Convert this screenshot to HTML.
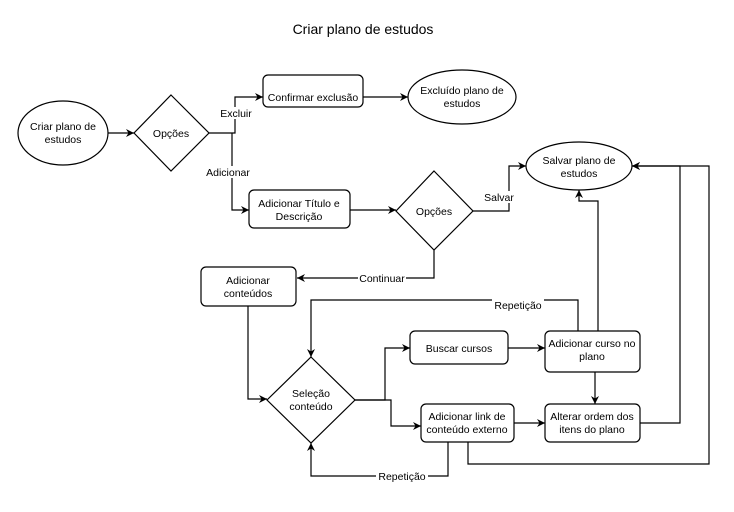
<!DOCTYPE html>
<html><head><meta charset="utf-8"><style>
html,body{margin:0;padding:0;background:#fff}
svg text{font-family:"Liberation Sans",sans-serif;font-size:10.5px;fill:#000}
</style></head><body>
<svg width="734" height="507" viewBox="0 0 734 507" xmlns="http://www.w3.org/2000/svg">
<defs><marker id="a" markerWidth="10" markerHeight="10" refX="8" refY="5" orient="auto" markerUnits="userSpaceOnUse"><path d="M0,1 L8,5 L0,9 L2.5,5 z" fill="#000"/></marker></defs>
<text x="363" y="34" text-anchor="middle" style="font-size:14px">Criar plano de estudos</text>
<g fill="#fff" stroke="#000" stroke-width="1.2">
<ellipse cx="63" cy="133" rx="45" ry="32"/>
<polygon points="171,95 209,133 171,171 134,133"/>
<rect x="263" y="75" width="100" height="32" rx="5"/>
<ellipse cx="462" cy="97" rx="54" ry="27"/>
<rect x="249" y="190" width="101" height="38" rx="5"/>
<polygon points="434,171 473,211 434,250 396,211"/>
<ellipse cx="579" cy="166" rx="53" ry="24"/>
<rect x="201" y="267" width="95" height="39" rx="5"/>
<polygon points="311,357 355,400 311,443 267,400"/>
<rect x="410" y="331" width="98" height="33" rx="5"/>
<rect x="545" y="331" width="95" height="41" rx="5"/>
<rect x="421" y="404" width="93" height="38" rx="5"/>
<rect x="545" y="404" width="95" height="38" rx="5"/>
</g>
<g fill="none" stroke="#000" stroke-width="1.2" marker-end="url(#a)">
<path d="M108,133 H134"/>
<path d="M209,133 H235 V97 H263"/>
<path d="M232,133 V210 H249"/>
<path d="M363,97 H408"/>
<path d="M350,210 H396"/>
<path d="M473,211 H509 V166 H526"/>
<path d="M434,250 V278 H297"/>
<path d="M248,306 V399 H267"/>
<path d="M355,400 H385 V348 H410"/>
<path d="M355,400 H391 V426 H421"/>
<path d="M508,348 H545"/>
<path d="M578,331 V300 H311 V357"/>
<path d="M598,331 V201 H579 V190"/>
<path d="M595,372 V404"/>
<path d="M514,423 H545"/>
<path d="M640,423 H680 V166 H632"/>
<path d="M468,442 V464 H709 V166 H632"/>
<path d="M448,442 V476 H311 V443"/>
</g>
<g fill="#fff">
<rect x="219" y="107" width="34" height="12"/>
<rect x="205" y="166" width="46" height="12"/>
<rect x="483" y="191" width="32" height="12"/>
<rect x="358" y="272" width="48" height="12"/>
<rect x="492" y="299" width="52" height="12"/>
<rect x="376" y="470" width="52" height="12"/>
</g>
<g text-anchor="middle">
<text x="63" y="130">Criar plano de</text><text x="63" y="143">estudos</text>
<text x="171" y="137">Opções</text>
<text x="313" y="101">Confirmar exclusão</text>
<text x="462" y="94">Excluído plano de</text><text x="462" y="107">estudos</text>
<text x="236" y="117">Excluir</text>
<text x="228" y="176">Adicionar</text>
<text x="299" y="207">Adicionar Título e</text><text x="299" y="220">Descrição</text>
<text x="434" y="215">Opções</text>
<text x="499" y="201">Salvar</text>
<text x="579" y="164">Salvar plano de</text><text x="579" y="177">estudos</text>
<text x="382" y="282">Continuar</text>
<text x="248" y="284">Adicionar</text><text x="248" y="297">conteúdos</text>
<text x="518" y="309">Repetição</text>
<text x="311" y="397">Seleção</text><text x="311" y="410">conteúdo</text>
<text x="459" y="352">Buscar cursos</text>
<text x="592" y="347">Adicionar curso no</text><text x="592" y="360">plano</text>
<text x="467" y="420">Adicionar link de</text><text x="467" y="433">conteúdo externo</text>
<text x="592" y="420">Alterar ordem dos</text><text x="592" y="433">itens do plano</text>
<text x="402" y="480">Repetição</text>
</g>
</svg>
</body></html>
